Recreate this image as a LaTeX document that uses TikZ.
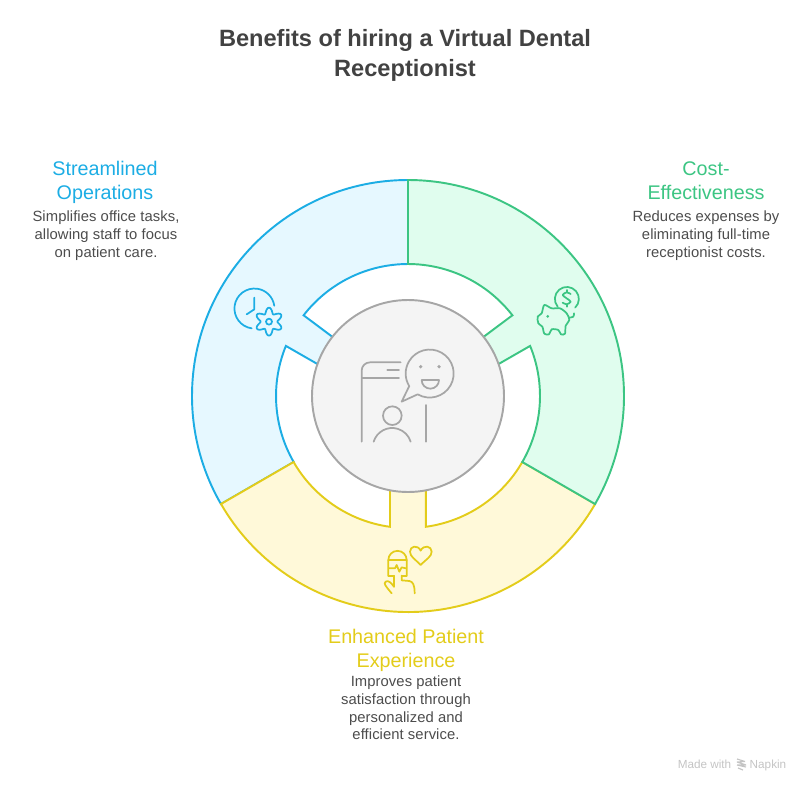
\documentclass[tikz,border=0pt]{standalone}
\usepackage{fontspec}
\setmainfont{Liberation Sans}
\definecolor{bluec}{HTML}{1CADE4}
\definecolor{greenc}{HTML}{3CC583}
\definecolor{yellowc}{HTML}{E3CC1A}
\definecolor{bluef}{HTML}{E6F8FF}
\definecolor{greenf}{HTML}{E0FDEE}
\definecolor{yellowf}{HTML}{FFF9D9}
\definecolor{hubf}{HTML}{F4F4F4}
\definecolor{hubd}{HTML}{A6A6A6}
\definecolor{ink}{HTML}{424242}
\definecolor{descink}{HTML}{4C4C4C}
\definecolor{wm}{HTML}{C4C4C4}
\tikzset{
  sector/.style={line width=1.45pt,line join=miter},
  icon/.style={line width=1.3pt,line cap=round,line join=round,fill=none},
  titletext/.style={text=ink,align=center,font=\fontsize{17.7}{22.5}\selectfont\bfseries},
  headtext/.style={align=center,font=\fontsize{14.8}{18}\selectfont},
  desctext/.style={text=descink,align=center,font=\fontsize{11.1}{13.3}\selectfont\addfontfeature{LetterSpace=0.5}},
  wmtext/.style={text=wm,anchor=base,font=\fontsize{8.8}{10}\selectfont},
  zoomed/.style={x=.25pt,y=-.25pt,icon}
}
\begin{document}
\begin{tikzpicture}[x=.75pt,y=-.75pt]
\useasboundingbox (0,0) rectangle (810,792);
% blue sector
\draw[sector,draw=bluec,fill=bluef]
  (408,180) arc[start angle=-90,end angle=-210,radius=216]
  -- (293.7,462) arc[start angle=-210,end angle=-157.7,radius=132]
  -- (340,377) -- (350,350)
  -- (303.6,315.3) arc[start angle=-142.3,end angle=-90,radius=132] -- cycle;
% yellow sector
\draw[sector,draw=yellowc,fill=yellowf]
  (221,504) arc[start angle=-210,end angle=-330,radius=216]
  -- (522.3,462) arc[start angle=-330,end angle=-277.8,radius=132]
  -- (426,460) -- (390,460) -- (390,526.8)
  arc[start angle=-262.2,end angle=-210,radius=132] -- cycle;
% green sector
\draw[sector,draw=greenc,fill=greenf]
  (408,180) arc[start angle=-90,end angle=30,radius=216]
  -- (522.3,462) arc[start angle=30,end angle=-22.3,radius=132]
  -- (476,377) -- (466,350)
  -- (512.4,315.3) arc[start angle=-37.7,end angle=-90,radius=132] -- cycle;
% hub
\node[circle,draw=hubd,fill=hubf,line width=1.45pt,minimum size=144pt,inner sep=0pt] (hub) at (408,396) {};
% hub icon
\begin{scope}[shift={(350,340)},zoomed,draw=hubd]
  \draw (35,305) -- (35,92) arc[start angle=-180,end angle=-90,radius=25] -- (152,67);
  \draw (37,113) -- (147,113);
  \draw (112,90) -- (147,90);
  \draw (228,195) -- (228,305);
  \draw (127,227) circle[radius=28];
  \draw (71,305) arc[start angle=-163,end angle=-17,radius=58];
  \draw (203,163) arc[start angle=-240,end angle=-571.6,radius=72] -- (155,185) -- cycle;
  \fill[hubd] (212,80) circle[radius=5.5] (267,80) circle[radius=5.5];
  \draw (215,120) -- (267,120) arc[start angle=0,end angle=180,radius=26];
\end{scope}
% blue icon
\begin{scope}[shift={(220,275)},zoomed,draw=bluec]
  \draw (95,160) arc[start angle=-262,end angle=-8,radius=60];
  \draw (103,68) -- (103,103) -- (80,118);
  \draw (147,140) circle[radius=9];
  \draw plot[domain=0:360,samples=73,smooth] ({147+(33.5+8.5*cos(6*\x+180))*cos(\x)},{140+(33.5+8.5*cos(6*\x+180))*sin(\x)});
\end{scope}
% green icon
\begin{scope}[shift={(525,275)},zoomed,draw=greenc]
  \draw (98,95) arc[start angle=-220,end angle=46,radius=36];
  \draw plot[smooth] coordinates {(137,57) (125,52) (113,60) (125,70) (137,80) (125,88) (113,83)};
  \draw (125,45) -- (125,52) (125,88) -- (125,95);
  \draw plot[smooth cycle] coordinates {(58,90) (80,100) (105,100) (125,115) (133,135) (122,152) (120,176) (108,178) (100,165) (80,163) (72,178) (58,176) (52,155) (40,145) (38,125) (50,115)};
  \draw plot[smooth] coordinates {(133,128) (145,125) (147,115)};
  \fill[greenc] (68,124) circle[radius=4.5];
\end{scope}
% yellow icon
\begin{scope}[shift={(370,535)},zoomed,draw=yellowc]
  \draw (152,90) .. controls (135,72) and (120,65) .. (120,50) .. controls (120,33) and (143,28) .. (152,47) .. controls (161,28) and (185,33) .. (185,50) .. controls (185,65) and (169,72) .. (152,90) -- cycle;
  \draw (55,122) -- (55,75) arc[start angle=-180,end angle=0,radius=27.5] -- (110,122);
  \draw (55,122) -- (70,122) (95,122) -- (110,122);
  \draw (55,75) -- (110,75);
  \draw (57,100) -- (75,100) -- (80,90) -- (88,110) -- (95,97) -- (108,100);
  \draw (72,122) -- (72,155);
  \draw (72,155) .. controls (62,142) and (55,135) .. (47,140) .. controls (40,146) and (46,152) .. (65,175);
  \draw (95,122) -- (95,136) -- (118,138) .. controls (128,140) and (134,148) .. (134,175);
\end{scope}
% texts
\node[titletext] (title) at (405,55.5) {Benefits of hiring a Virtual Dental\\Receptionist};
\node[headtext,text=bluec] (h1) at (105,182) {Streamlined\\Operations};
\node[desctext] (d1) at (106,235.5) {Simplifies office tasks,\\allowing staff to focus\\on patient care.};
\node[headtext,text=greenc] (h2) at (706,181) {Cost-\\Effectiveness};
\node[desctext] (d2) at (706,235.5) {Reduces expenses by\\eliminating full-time\\receptionist costs.};
\node[headtext,text=yellowc] (h3) at (406,650) {Enhanced Patient\\Experience};
\node[desctext] (d3) at (406,708) {Improves patient\\satisfaction through\\personalized and\\efficient service.};
\node[wmtext] (wm1) at (704.5,768) {Made with};
\node[wmtext] (wm2) at (768,768) {Napkin};
\begin{scope}[draw=wm,line width=.85pt]
  \draw (737,759) -- (745,761.5) (737,762) -- (746,765) (737,765) -- (746,767) (738,768) -- (743,770) (745,761.5) -- (737,762) (746,765) -- (737,765);
\end{scope}
\end{tikzpicture}
\end{document}
